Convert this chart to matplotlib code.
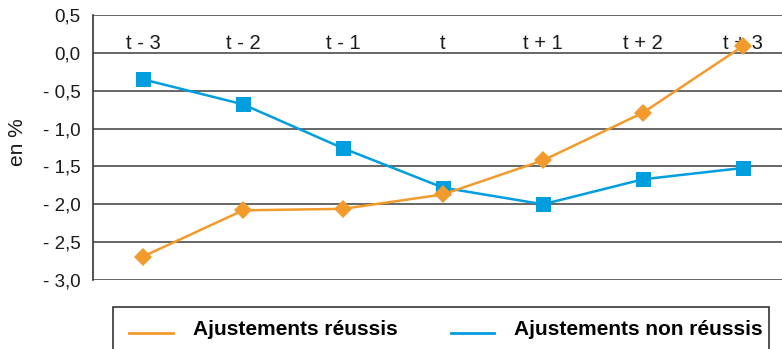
import matplotlib.pyplot as plt
from matplotlib.lines import Line2D
from matplotlib.patches import Rectangle
from matplotlib.ticker import FixedLocator, FuncFormatter

plt.rcParams['font.family'] = ['Liberation Sans', 'DejaVu Sans']

# périodes autour de l'ajustement
periodes = ['t - 3', 't - 2', 't - 1', 't', 't + 1', 't + 2', 't + 3']
reussis = [-2.69, -2.08, -2.06, -1.87, -1.42, -0.79, 0.09]
non_reussis = [-0.35, -0.68, -1.26, -1.78, -2.00, -1.67, -1.52]
yticks = [0.5, 0.0, -0.5, -1.0, -1.5, -2.0, -2.5, -3.0]

ORANGE = '#F39A2C'
BLEU = '#009EDF'
GRILLE = '#5a5a5a'
TEXTE = '#1a1a1a'

W, H = 782, 349
fig = plt.figure(figsize=(W / 100, H / 100), dpi=100)
ax = fig.add_axes([93 / W, (H - 280) / H, 700 / W, 265 / H])

x = range(len(periodes))
ax.plot(x, reussis, color=ORANGE, lw=1.8, marker='D', ms=9.3,
        markeredgewidth=0, zorder=4, clip_on=False)
ax.plot(x, non_reussis, color=BLEU, lw=1.8, marker='s', ms=10.8,
        markeredgewidth=0, zorder=3, clip_on=False)

ax.set_xlim(-0.5, len(periodes) - 0.5)
ax.set_ylim(-3.0, 0.5)
ax.set_xticks([])
ax.yaxis.set_major_locator(FixedLocator(yticks))


def fmt(v, pos):
    s = f'{abs(v):.1f}'.replace('.', ',')
    return f'- {s}' if v < -1e-9 else s


ax.yaxis.set_major_formatter(FuncFormatter(fmt))
ax.tick_params(axis='y', length=0, pad=9, labelsize=13.5, colors=TEXTE)
ax.grid(axis='y', color=GRILLE, lw=1.3)
ax.set_axisbelow(True)
for sp in ['right', 'bottom', 'top']:
    ax.spines[sp].set_visible(False)
ax.spines['left'].set_color('#333333')
ax.spines['left'].set_linewidth(1.2)

# libellés des périodes en haut du graphique
for i, p in enumerate(periodes):
    ax.text(i, 0.12, p, ha='center', va='center', fontsize=14.5,
            color=TEXTE, zorder=2)

ax.set_ylabel('en %', fontsize=15, color=TEXTE)
ax.yaxis.set_label_coords(-0.094, 0.52)

# légende encadrée en bas
fig.patches.append(Rectangle((113 / W, -0.1), (769 - 113) / W, (H - 307) / H + 0.1,
                             transform=fig.transFigure, fill=False,
                             edgecolor='#222222', lw=1.1))
yl = (H - 333) / H
yt = (H - 335) / H
fig.lines.append(Line2D([129 / W, 173 / W], [yl, yl], transform=fig.transFigure,
                        color=ORANGE, lw=2))
fig.lines.append(Line2D([451 / W, 494 / W], [yl, yl], transform=fig.transFigure,
                        color=BLEU, lw=2))
fig.text(193 / W, yt, 'Ajustements réussis', fontsize=15, fontweight='bold',
         va='baseline', ha='left')
fig.text(514 / W, yt, 'Ajustements non réussis', fontsize=15, fontweight='bold',
         va='baseline', ha='left')

fig.savefig('out.png', dpi=100)
